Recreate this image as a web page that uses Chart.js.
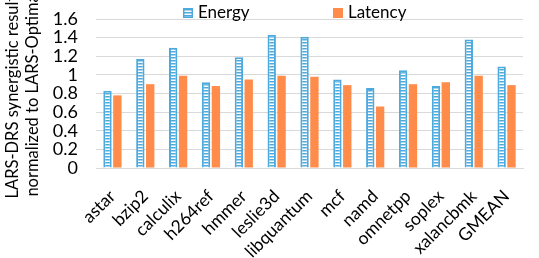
<!DOCTYPE html>
<html>
<head>
<meta charset="utf-8">
<script src="https://cdn.jsdelivr.net/npm/chart.js@4.4.1/dist/chart.umd.min.js"></script>
<style>
  html, body { margin: 0; padding: 0; background: #fff; }
</style>
</head>
<body>
<canvas id="chart" width="539" height="258"></canvas>
<script>
// Benchmarks on the x axis
const benchmarks = ['astar', 'bzip2', 'calculix', 'h264ref', 'hmmer', 'leslie3d', 'libquantum',
  'mcf', 'namd', 'omnetpp', 'soplex', 'xalancbmk', 'GMEAN'];

// Normalized values
const energy = [0.83, 1.17, 1.29, 0.92, 1.19, 1.43, 1.41, 0.95, 0.86, 1.05, 0.88, 1.38, 1.09];
const latency = [0.78, 0.90, 0.99, 0.88, 0.95, 0.99, 0.98, 0.89, 0.66, 0.90, 0.92, 0.99, 0.89];

const yTicks = [0, 0.2, 0.4, 0.6, 0.8, 1, 1.2, 1.4, 1.6];
const yTickLabels = ['0', '0.2', '0.4', '0.6', '0.8', '1', '1.2', '1.4', '1.6'];

const blue = '#4eaadc';
const orange = '#ff8c4a';
const font = 'Lato, "Liberation Sans", sans-serif';

// Horizontal stripes for the energy bars
function stripes() {
  const c = document.createElement('canvas');
  c.width = 4;
  c.height = 3;
  const g = c.getContext('2d');
  g.fillStyle = '#fff';
  g.fillRect(0, 0, 4, 3);
  g.fillStyle = blue;
  g.fillRect(0, 0, 4, 1);
  g.fillStyle = '#a6d4ee';
  g.fillRect(0, 1, 4, 1);
  return g.createPattern(c, 'repeat');
}
const energyFill = stripes();

// Legend drawn by hand so the items can sit far apart like the original
const legendPlugin = {
  id: 'wideLegend',
  afterDraw(chart) {
    const ctx = chart.ctx;
    const items = [
      { x: 183, text: 'Energy', fill: energyFill, border: blue },
      { x: 333, text: 'Latency', fill: orange, border: orange }
    ];
    ctx.save();
    ctx.font = '17px ' + font;
    ctx.textBaseline = 'middle';
    items.forEach((it) => {
      ctx.fillStyle = it.fill;
      ctx.fillRect(it.x, 8, 10, 10);
      ctx.strokeStyle = it.border;
      ctx.lineWidth = 1.5;
      ctx.strokeRect(it.x + 0.75, 8.75, 8.5, 8.5);
      ctx.fillStyle = '#000';
      ctx.fillText(it.text, it.x + 15, 13);
    });
    ctx.restore();
  }
};

new Chart(document.getElementById('chart'), {
  type: 'bar',
  data: {
    labels: benchmarks,
    datasets: [
      {
        label: 'Energy',
        data: energy,
        backgroundColor: energyFill,
        borderColor: blue,
        borderWidth: { left: 2, right: 2, top: 2, bottom: 0 },
        borderSkipped: false,
        barPercentage: 0.85,
        categoryPercentage: 0.6
      },
      {
        label: 'Latency',
        data: latency,
        backgroundColor: orange,
        borderWidth: 0,
        barPercentage: 0.85,
        categoryPercentage: 0.6
      }
    ]
  },
  options: {
    responsive: false,
    animation: false,
    devicePixelRatio: 1,
    layout: { padding: { top: 19, right: 16, left: 0, bottom: 0 } },
    plugins: {
      legend: { display: false },
      tooltip: { enabled: false }
    },
    scales: {
      x: {
        grid: { display: false },
        border: { color: '#d9d9d9' },
        ticks: {
          color: '#000',
          font: { family: font, size: 17.5 },
          minRotation: 45,
          maxRotation: 45,
          autoSkip: false,
          padding: 10
        },
        afterFit(scale) {
          scale.height = 90;
          scale.paddingLeft = 0;
          scale.paddingRight = 0;
        }
      },
      y: {
        min: 0,
        max: 1.6,
        afterBuildTicks(scale) { scale.ticks = yTicks.map((v) => ({ value: v })); },
        grid: { color: '#d9d9d9', drawTicks: false },
        border: { display: false },
        ticks: {
          color: '#000',
          font: { family: font, size: 18 },
          padding: 18,
          autoSkip: false,
          callback: (v, i) => yTickLabels[i]
        },
        title: {
          display: true,
          text: ['LARS-DRS synergistic results', 'normalized to LARS-Optimal'],
          color: '#000',
          font: { family: font, size: 16.5 },
          padding: { top: 3, bottom: 0 }
        },
        afterFit(scale) {
          scale.width = 96;
          scale.paddingTop = 0;
          scale.paddingBottom = 0;
        }
      }
    }
  },
  plugins: [legendPlugin]
});
</script>
</body>
</html>
